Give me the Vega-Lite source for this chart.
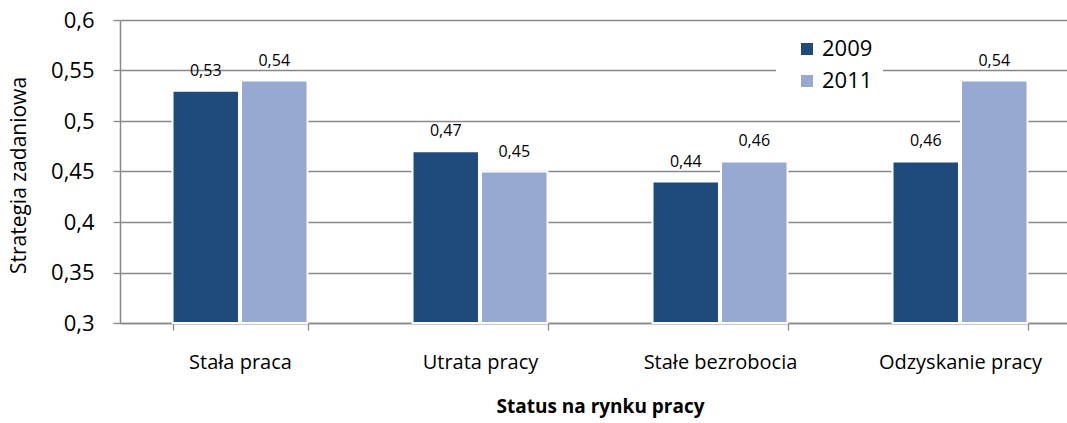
{
  "$schema": "https://vega.github.io/schema/vega-lite/v6.json",
  "width": 947,
  "height": 303,
  "autosize": {"type": "none"},
  "padding": {"left": 120, "top": 20, "right": 0, "bottom": 100},
  "background": "white",
  "config": {
    "font": "Open Sans",
    "view": {"stroke": null},
    "locale": {"number": {"decimal": ",", "thousands": " ", "grouping": [3], "currency": ["", " zł"]}}
  },
  "data": {
    "values": [
      {"status": "Stała praca", "year": "2009", "value": 0.53},
      {"status": "Stała praca", "year": "2011", "value": 0.54},
      {"status": "Utrata pracy", "year": "2009", "value": 0.47},
      {"status": "Utrata pracy", "year": "2011", "value": 0.45},
      {"status": "Stałe bezrobocia", "year": "2009", "value": 0.44},
      {"status": "Stałe bezrobocia", "year": "2011", "value": 0.46},
      {"status": "Odzyskanie pracy", "year": "2009", "value": 0.46},
      {"status": "Odzyskanie pracy", "year": "2011", "value": 0.54}
    ]
  },
  "encoding": {
    "x": {
      "field": "status",
      "type": "nominal",
      "sort": ["Stała praca", "Utrata pracy", "Stałe bezrobocia", "Odzyskanie pracy"],
      "scale": {"range": [0, 960], "paddingInner": 0.4375, "paddingOuter": 0.21875},
      "axis": {
        "title": "Status na rynku pracy",
        "titleFontSize": 19,
        "titleFontWeight": "bold",
        "titleColor": "#000000",
        "titleX": 480,
        "titleY": 83,
        "titleBaseline": "middle",
        "labelAngle": 0,
        "labelFontSize": 20,
        "labelColor": "#000000",
        "labelPadding": 22,
        "tickBand": "extent",
        "tickSize": 7,
        "tickColor": "#888888",
        "tickWidth": 1.3,
        "domainColor": "#888888",
        "domainWidth": 1.5,
        "grid": false
      }
    },
    "xOffset": {"field": "year", "type": "nominal", "scale": {"paddingInner": 0.03}},
    "y": {
      "field": "value",
      "type": "quantitative",
      "scale": {"domain": [0.3, 0.6], "zero": false, "nice": false, "clamp": true},
      "axis": {
        "title": "Strategia zadaniowa",
        "titleFontSize": 21,
        "titleFontWeight": "normal",
        "titleColor": "#000000",
        "titleX": -101,
        "titleY": 155,
        "titleAngle": -90,
        "titleAlign": "center",
        "titleBaseline": "middle",
        "values": [0.3, 0.35, 0.4, 0.45, 0.5, 0.55, 0.6],
        "format": ".2~f",
        "labelFontSize": 22,
        "labelColor": "#000000",
        "labelPadding": 19,
        "tickSize": 7,
        "tickColor": "#888888",
        "tickWidth": 1.3,
        "domainColor": "#888888",
        "domainWidth": 1.5,
        "grid": true,
        "gridColor": "#888888",
        "gridWidth": 1.3
      }
    }
  },
  "layer": [
    {
      "mark": {"type": "bar", "stroke": "white", "strokeWidth": 2},
      "encoding": {
        "color": {
          "field": "year",
          "type": "nominal",
          "scale": {"domain": ["2009", "2011"], "range": ["#1F4A7C", "#95A9D1"]},
          "legend": {
            "title": null,
            "orient": "none",
            "legendX": 656,
            "legendY": 8,
            "fillColor": "white",
            "padding": 10,
            "symbolOffset": 10,
            "symbolType": "square",
            "symbolSize": 144,
            "symbolStrokeWidth": 0,
            "labelFontSize": 22,
            "labelColor": "#000000",
            "labelOffset": 4,
            "rowPadding": 10
          }
        }
      }
    },
    {
      "mark": {"type": "text", "baseline": "alphabetic", "dy": -15, "fontSize": 16, "color": "#000000"},
      "encoding": {
        "text": {"field": "value", "type": "quantitative", "format": ".2f"}
      }
    }
  ]
}
